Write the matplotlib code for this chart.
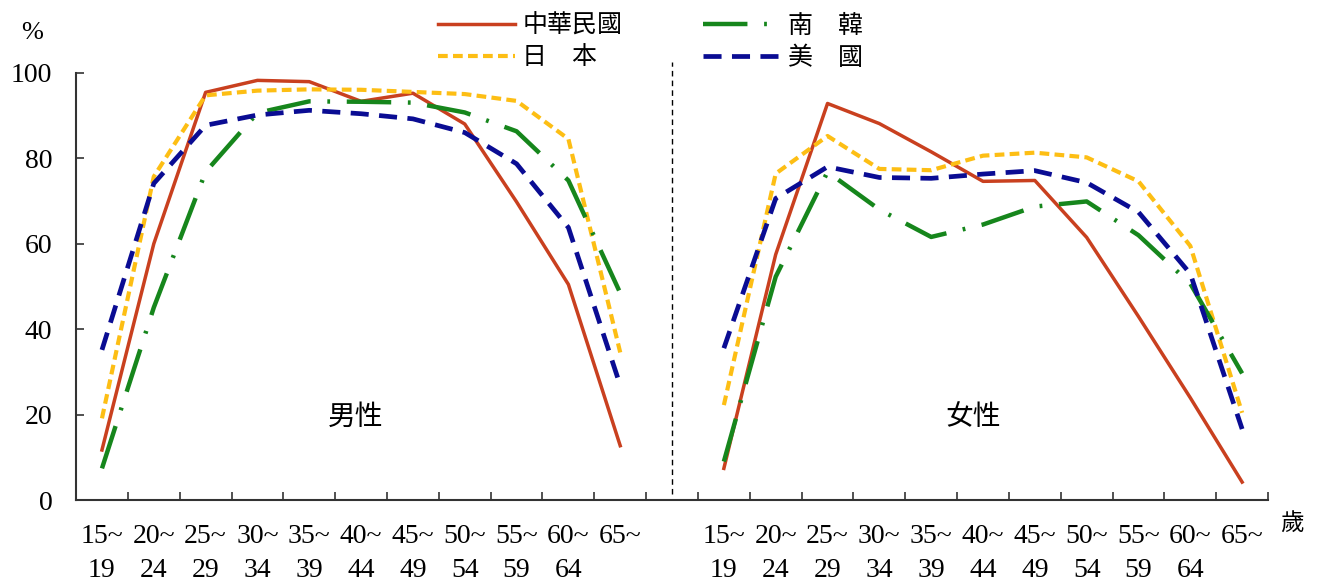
import matplotlib
matplotlib.use("Agg")
import matplotlib.pyplot as plt
import numpy as np

plt.rcParams['font.family'] = ['Liberation Serif', 'Noto Sans CJK TC', 'DejaVu Sans']
plt.rcParams['lines.scale_dashes'] = False

# age groups (x categories)
age_groups = ['15~\n19', '20~\n24', '25~\n29', '30~\n34', '35~\n39', '40~\n44',
              '45~\n49', '50~\n54', '55~\n59', '60~\n64', '65~']

# labour force participation rate (%)
male_roc = [11.8, 60.0, 95.4, 98.2, 97.9, 93.3, 95.2, 88.0, 69.8, 50.5, 12.8]
male_jpn = [19.2, 75.7, 94.7, 95.8, 96.1, 96.0, 95.5, 95.0, 93.4, 84.5, 34.6]
male_kor = [7.5, 45.1, 76.8, 90.6, 93.3, 93.2, 93.0, 90.7, 86.3, 74.8, 48.5]
male_usa = [35.2, 74.1, 87.7, 90.1, 91.2, 90.4, 89.2, 86.0, 78.7, 63.8, 26.9]

female_roc = [7.5, 57.5, 92.8, 88.1, 81.5, 74.6, 74.8, 61.5, 43.0, 24.0, 4.3]
female_jpn = [22.3, 76.4, 85.2, 77.5, 77.2, 80.6, 81.3, 80.2, 74.6, 59.5, 20.5]
female_kor = [9.1, 52.3, 76.8, 68.0, 61.6, 64.5, 68.7, 69.9, 62.0, 50.7, 29.7]
female_usa = [35.6, 70.6, 78.0, 75.5, 75.3, 76.3, 77.1, 74.3, 67.4, 53.0, 16.7]

countries = ['中華民國', '日\u3000本', '南\u3000韓', '美\u3000國']

fig = plt.figure(figsize=(13.18, 5.87), dpi=100)
ax = fig.add_axes([0.0577, 0.1474, 0.9044, 0.7288])

n = len(age_groups)
male_x = np.arange(n) + 0.5
female_x = np.arange(n) + n + 1.5

styles = [
    dict(color='#C9401F', lw=2.5, ls='-'),
    dict(color='#FDBE14', lw=3.0, ls=(0, (7, 3.8))),
    dict(color='#16861C', lw=3.2, ls=(0, (32, 12, 2, 12))),
    dict(color='#0A0C93', lw=3.4, ls=(0, (13, 7.5))),
]
male = [male_roc, male_jpn, male_kor, male_usa]
female = [female_roc, female_jpn, female_kor, female_usa]

handles = []
for name, st, m, f in zip(countries, styles, male, female):
    h, = ax.plot(male_x, m, label=name, clip_on=False, **st)
    ax.plot(female_x, f, clip_on=False, **st)
    handles.append(h)

# separator between male and female panels
ax.plot([n + 0.5, n + 0.5], [1.5, 102.5], color='black', lw=1.0,
        ls=(0, (4, 3)), clip_on=False)

ax.set_xlim(0, 2 * n + 1)
ax.set_ylim(0, 100)
ax.set_yticks(range(0, 101, 20))
ax.set_xticks(np.arange(2 * n + 2))
ax.set_xticklabels([])
ax.set_xticks(np.concatenate([male_x, female_x]), labels=age_groups * 2, minor=True)
for lab in ax.get_xticklabels(minor=True):
    lab.set_linespacing(1.45)

ax.tick_params(axis='x', which='major', direction='in', length=6, width=1.2, color='#333333')
ax.tick_params(axis='x', which='minor', length=0, pad=17, labelsize=20)
ax.tick_params(axis='y', direction='in', length=6, width=1.2, color='#333333',
               labelsize=20, pad=17)

for s in ['top', 'right']:
    ax.spines[s].set_visible(False)
for s in ['left', 'bottom']:
    ax.spines[s].set_linewidth(1.5)
    ax.spines[s].set_color('#333333')

ax.text(5.4, 19.3, '男性', fontsize=20, ha='center', va='center')
ax.text(17.3, 19.3, '女性', fontsize=20, ha='center', va='center')

fig.text(32 / 1318, 1 - 33 / 587, '%', fontsize=19, ha='center', va='center')
fig.text(1292 / 1318, 1 - 524 / 587, '歲', fontsize=17, ha='center', va='center')

fig.legend(handles=handles, ncol=2, frameon=False, loc='center',
           bbox_to_anchor=(650 / 1318, 1 - 42 / 587), fontsize=18,
           handlelength=3.1, handletextpad=0.3, columnspacing=3.2,
           labelspacing=0.35)

fig.savefig('out.png', dpi=100)
